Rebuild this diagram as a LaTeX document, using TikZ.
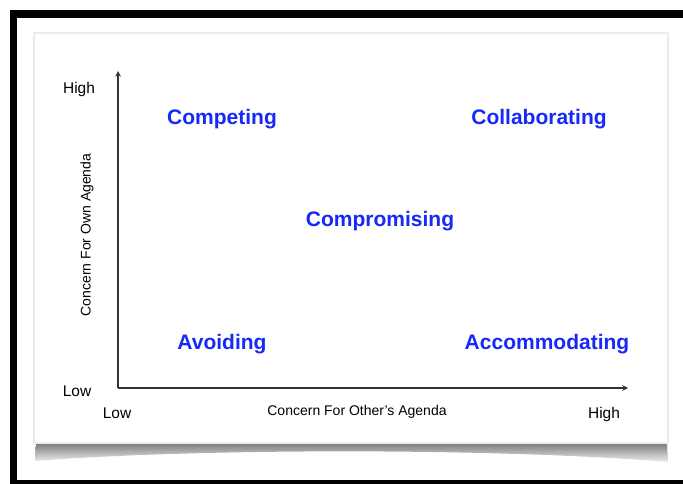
\documentclass[tikz,border=0pt]{standalone}
\usepackage{fontspec}
\setmainfont{Liberation Sans}
\usepackage{xcolor}
\definecolor{modeblue}{RGB}{22,40,250}
\usetikzlibrary{
  arrows,
  shapes
}

\begin{document}
\begin{tikzpicture}[x=1pt, y=-1pt,
    axis/.style = {draw=black!80, line width=1.5pt, -stealth},
    mode/.style = {text=modeblue, font=\fontsize{21}{24}\selectfont\bfseries, inner sep=0pt},
    tick/.style = {font=\fontsize{15.5}{18}\selectfont, inner sep=0pt},
    axtitle/.style = {font=\fontsize{14}{16}\selectfont, inner sep=0pt}]
  \useasboundingbox (0,0) rectangle (683,484);
  % frame
  \fill[black] (10,10) rectangle (683,18);
  \fill[black] (10,10) rectangle (17,484);
  \fill[black] (10,480) rectangle (683,484);
  % card with curled shadow
  \shade[top color=black!55, bottom color=black!6]
    (36,442) -- (667,442) -- (668,462) .. controls (500,448) and (200,448) .. (35,461) -- cycle;
  \fill[white, draw=black!8, line width=1.5pt] (34,33) rectangle (668,443);
  % axes
  \coordinate (origin) at (118,388);
  \coordinate (ytop) at (118,71);
  \coordinate (xend) at (628,388);
  \draw[axis] (origin) -- (ytop);
  \draw[axis] (origin) -- (xend);
  % axis labels
  \node[tick] (yhigh) at (79,89) {High};
  \node[tick] (ylow) at (77,391) {Low};
  \node[tick] (xlow) at (117,413) {Low};
  \node[tick] (xhigh) at (604,414) {High};
  \node[axtitle, rotate=90] (ytitle) at (87,235) {Concern For Own Agenda};
  \node[axtitle] (xtitle) at (357,412) {Concern For Other's Agenda};
  % modes
  \node[mode] (competing) at (222,119) {Competing};
  \node[mode] (collab) at (539,119) {Collaborating};
  \node[mode] (compromise) at (380,221) {Compromising};
  \node[mode] (avoiding) at (222,344) {Avoiding};
  \node[mode] (accommodating) at (547,344) {Accommodating};
\end{tikzpicture}
\end{document}
